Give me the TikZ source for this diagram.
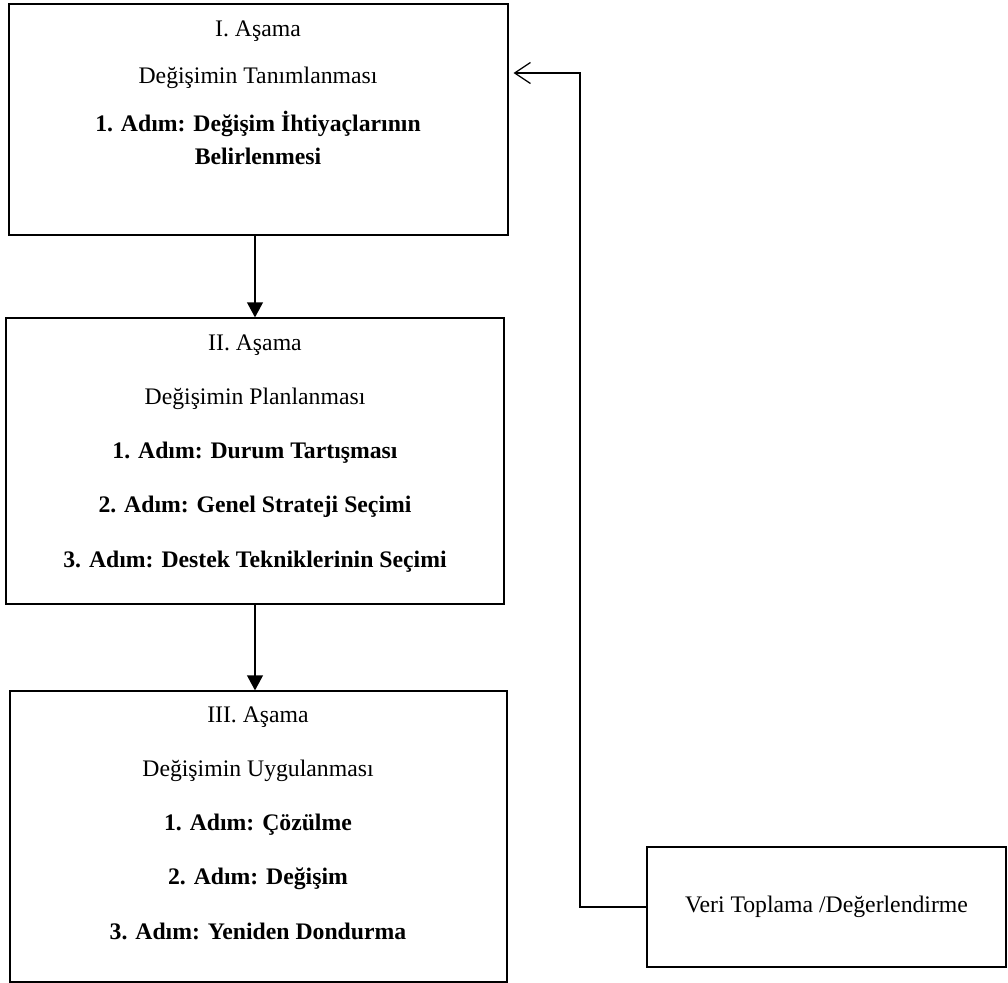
\documentclass[tikz,border=0pt]{standalone}
\usepackage{fontspec}
\setmainfont{Liberation Serif}
\usetikzlibrary{arrows.meta,positioning}
\newcommand{\pxu}{0.02cm}

\begin{document}
\begin{tikzpicture}[
    x=0.02cm, y=-0.02cm,
    kutu/.style={draw, line width=0.7pt, inner sep=0pt},
    yazi/.style={align=center, inner sep=0pt, anchor=north, font=\fontsize{13.5}{16.2}\selectfont},
    ok/.style={line width=0.7pt, -{Triangle[length=8.5pt, width=9pt]}},
    donusok/.style={line width=0.7pt, -{Straight Barb[length=9pt, width=12pt]}},
]
\useasboundingbox (0,0) rectangle (1008,983);

% asamalar
\node[kutu, minimum width=499*\pxu, minimum height=231*\pxu] (asama1) at (258.5,119.5) {};
\node[yazi] (yazi1) at (258,20)
  {I. Aşama\\[11pt]Değişimin Tanımlanması\\[11pt]%
   \textbf{1. Adım: Değişim İhtiyaçlarının}\\[2.5pt]\textbf{Belirlenmesi}};

\node[kutu, minimum width=498*\pxu, minimum height=286*\pxu] (asama2) at (255,461) {};
\node[yazi] (yazi2) at (255,334)
  {II. Aşama\\[14.7pt]Değişimin Planlanması\\[14.7pt]%
   \textbf{1. Adım: Durum Tartışması}\\[14.7pt]%
   \textbf{2. Adım: Genel Strateji Seçimi}\\[14.7pt]%
   \textbf{3. Adım: Destek Tekniklerinin Seçimi}};

\node[kutu, minimum width=497*\pxu, minimum height=291*\pxu] (asama3) at (258.5,836.5) {};
\node[yazi] (yazi3) at (258,706)
  {III. Aşama\\[14.7pt]Değişimin Uygulanması\\[14.7pt]%
   \textbf{1. Adım: Çözülme}\\[14.7pt]%
   \textbf{2. Adım: Değişim}\\[14.7pt]%
   \textbf{3. Adım: Yeniden Dondurma}};

% geri bildirim
\node[kutu, minimum width=359*\pxu, minimum height=120*\pxu,
  font=\fontsize{13.5}{16.2}\selectfont] (veri) at (826.5,907)
  {Veri Toplama /Değerlendirme};

\draw[ok] (asama1.south -| asama2.north) -- (asama2.north);
\draw[ok] (asama2.south) -- (asama3.north -| asama2.south);

\coordinate (kose) at (580,73);
\draw[donusok, shorten >=2.8pt] (veri.west) -| (kose) -- (asama1.east |- kose);
\end{tikzpicture}
\end{document}
